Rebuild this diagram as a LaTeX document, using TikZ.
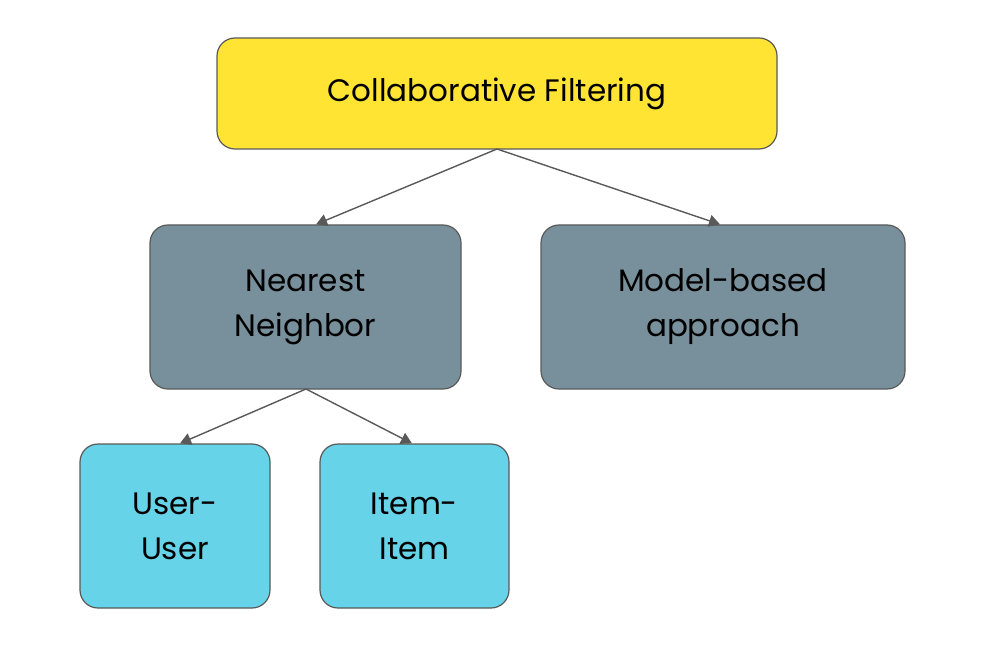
\documentclass[tikz,border=0pt]{standalone}
\usepackage{fontspec}
\setmainfont{Poppins}
\usetikzlibrary{arrows.meta}
\definecolor{cy}{HTML}{FFE433}
\definecolor{cg}{HTML}{78909C}
\definecolor{cc}{HTML}{67D3E8}
\definecolor{cl}{HTML}{595959}
\begin{document}
\begin{tikzpicture}[x=1pt,y=-1pt,
 box/.style={draw=cl,line width=1.2pt,rounded corners=18pt,align=center,font=\fontsize{31}{45}\selectfont,inner sep=0pt},
 arr/.style={draw=cl,line width=1.4pt,-{Triangle[length=11pt,width=12pt]}}]
\useasboundingbox (0,0) rectangle (1006,652);
\node[box,fill=cy,minimum width=560pt,minimum height=111pt] (cf) at (497,93.5) {Collaborative Filtering};
\node[box,fill=cg,minimum width=311pt,minimum height=164pt] (nn) at (305.5,307) {Nearest\\Neighbor};
\node[box,fill=cg,minimum width=364pt,minimum height=164pt] (mb) at (723,307) {Model-based\\approach};
\node[box,fill=cc,minimum width=190pt,minimum height=164pt] (uu) at (175,526) {User-\\User};
\node[box,fill=cc,minimum width=189pt,minimum height=164pt] (ii) at (414.5,526) {Item-\\Item};
\coordinate (a) at (497,149);
\coordinate (b) at (306,389);
\draw[arr] (a) -- (nn.north -| 316,0);
\draw[arr] (a) -- (mb.north -| 720,0);
\draw[arr] (b) -- (uu.north -| 180,0);
\draw[arr] (b) -- (ii.north -| 412,0);
\end{tikzpicture}
\end{document}
